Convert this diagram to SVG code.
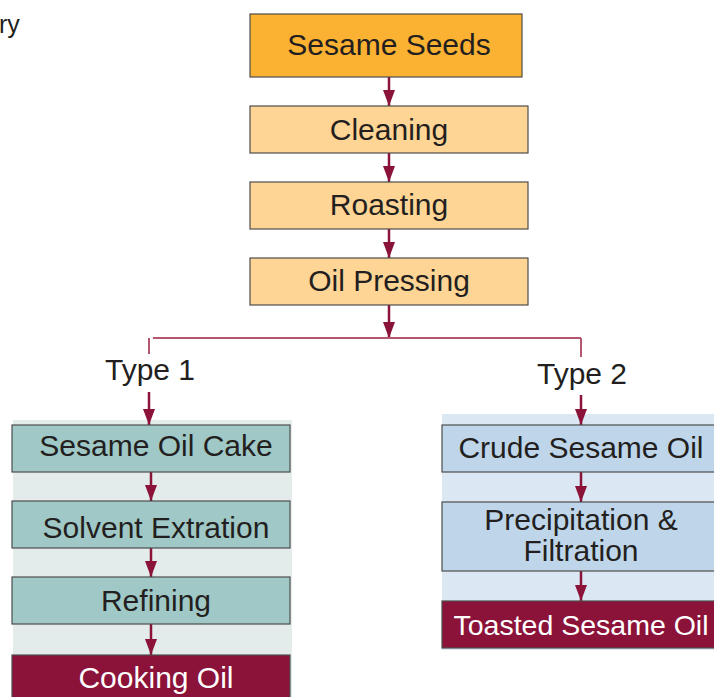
<svg xmlns="http://www.w3.org/2000/svg" width="714" height="697" viewBox="0 0 714 697">
<style>
text{font-family:"Liberation Sans",Arial,sans-serif;font-size:30px;fill:#231f20;text-anchor:middle}
.box{stroke:#4d4d4d;stroke-width:1.2}
.orange{fill:#fbb131}
.peach{fill:#fed594}
.teal{fill:#9fc8c6}
.blue{fill:#bfd6ea}
.dark{fill:#8b1238}
.white{fill:#ffffff}
.arr{stroke:#8b1238;stroke-width:2.5;fill:none;marker-end:url(#ah)}
.br{stroke:#b5566f;stroke-width:2;fill:none}
</style>
<defs>
<marker id="ah" viewBox="0 0 16 12" refX="16" refY="6" markerWidth="16" markerHeight="12" markerUnits="userSpaceOnUse" orient="auto">
<path d="M0,0 L16,6 L0,12 z" fill="#8b1238"/>
</marker>
</defs>
<rect width="714" height="697" fill="#ffffff"/>
<text x="-1" y="33" style="text-anchor:start;font-size:25px">ry</text>
<rect x="13" y="420" width="279" height="277" fill="#e3ecea"/>
<rect x="442" y="414" width="272" height="236" fill="#dbe7f3"/>
<g id="connectors">
<line class="arr" x1="389" y1="77" x2="389" y2="106"/>
<line class="arr" x1="389" y1="153" x2="389" y2="182"/>
<line class="arr" x1="389" y1="229" x2="389" y2="258"/>
<line class="arr" x1="389" y1="305" x2="389" y2="338"/>
<line class="br" x1="153" y1="338" x2="581" y2="338"/>
<line class="br" x1="149" y1="338" x2="149" y2="354"/>
<line class="br" x1="581" y1="338" x2="581" y2="357"/>
<line class="arr" x1="149" y1="392" x2="149" y2="425"/>
<line class="arr" x1="581" y1="395" x2="581" y2="425"/>
<line class="arr" x1="151" y1="472" x2="151" y2="501"/>
<line class="arr" x1="151" y1="548" x2="151" y2="577"/>
<line class="arr" x1="151" y1="624" x2="151" y2="655"/>
<line class="arr" x1="581" y1="472" x2="581" y2="502"/>
<line class="arr" x1="581" y1="571" x2="581" y2="601"/>
</g>
<g id="sesame-seeds"><rect class="box orange" x="250" y="14" width="272" height="63"/><text x="389" y="55">Sesame Seeds</text></g>
<g id="cleaning"><rect class="box peach" x="250" y="106" width="278" height="47"/><text x="389" y="140">Cleaning</text></g>
<g id="roasting"><rect class="box peach" x="250" y="182" width="278" height="47"/><text x="389" y="215">Roasting</text></g>
<g id="oil-pressing"><rect class="box peach" x="250" y="258" width="278" height="47"/><text x="389" y="291">Oil Pressing</text></g>
<g id="type1"><text x="150" y="380">Type 1</text></g>
<g id="type2"><text x="582" y="384">Type 2</text></g>
<g id="sesame-oil-cake"><rect class="box teal" x="12" y="425" width="278" height="47"/><text x="156" y="456">Sesame Oil Cake</text></g>
<g id="solvent-extration"><rect class="box teal" x="12" y="501" width="278" height="47"/><text x="156" y="538">Solvent Extration</text></g>
<g id="refining"><rect class="box teal" x="12" y="577" width="278" height="47"/><text x="156" y="611">Refining</text></g>
<g id="cooking-oil"><rect class="box dark" x="12" y="655" width="278" height="50"/><text x="156" y="688" class="white">Cooking Oil</text></g>
<g id="crude-sesame-oil"><rect class="box blue" x="442" y="425" width="280" height="47"/><text x="581" y="458">Crude Sesame Oil</text></g>
<g id="precipitation"><rect class="box blue" x="442" y="502" width="280" height="69"/><text x="581" y="530">Precipitation &amp;</text><text x="581" y="561">Filtration</text></g>
<g id="toasted-sesame-oil"><rect class="box dark" x="442" y="601" width="280" height="47"/><text x="581" y="635" class="white" style="font-size:28.5px">Toasted Sesame Oil</text></g>
</svg>
